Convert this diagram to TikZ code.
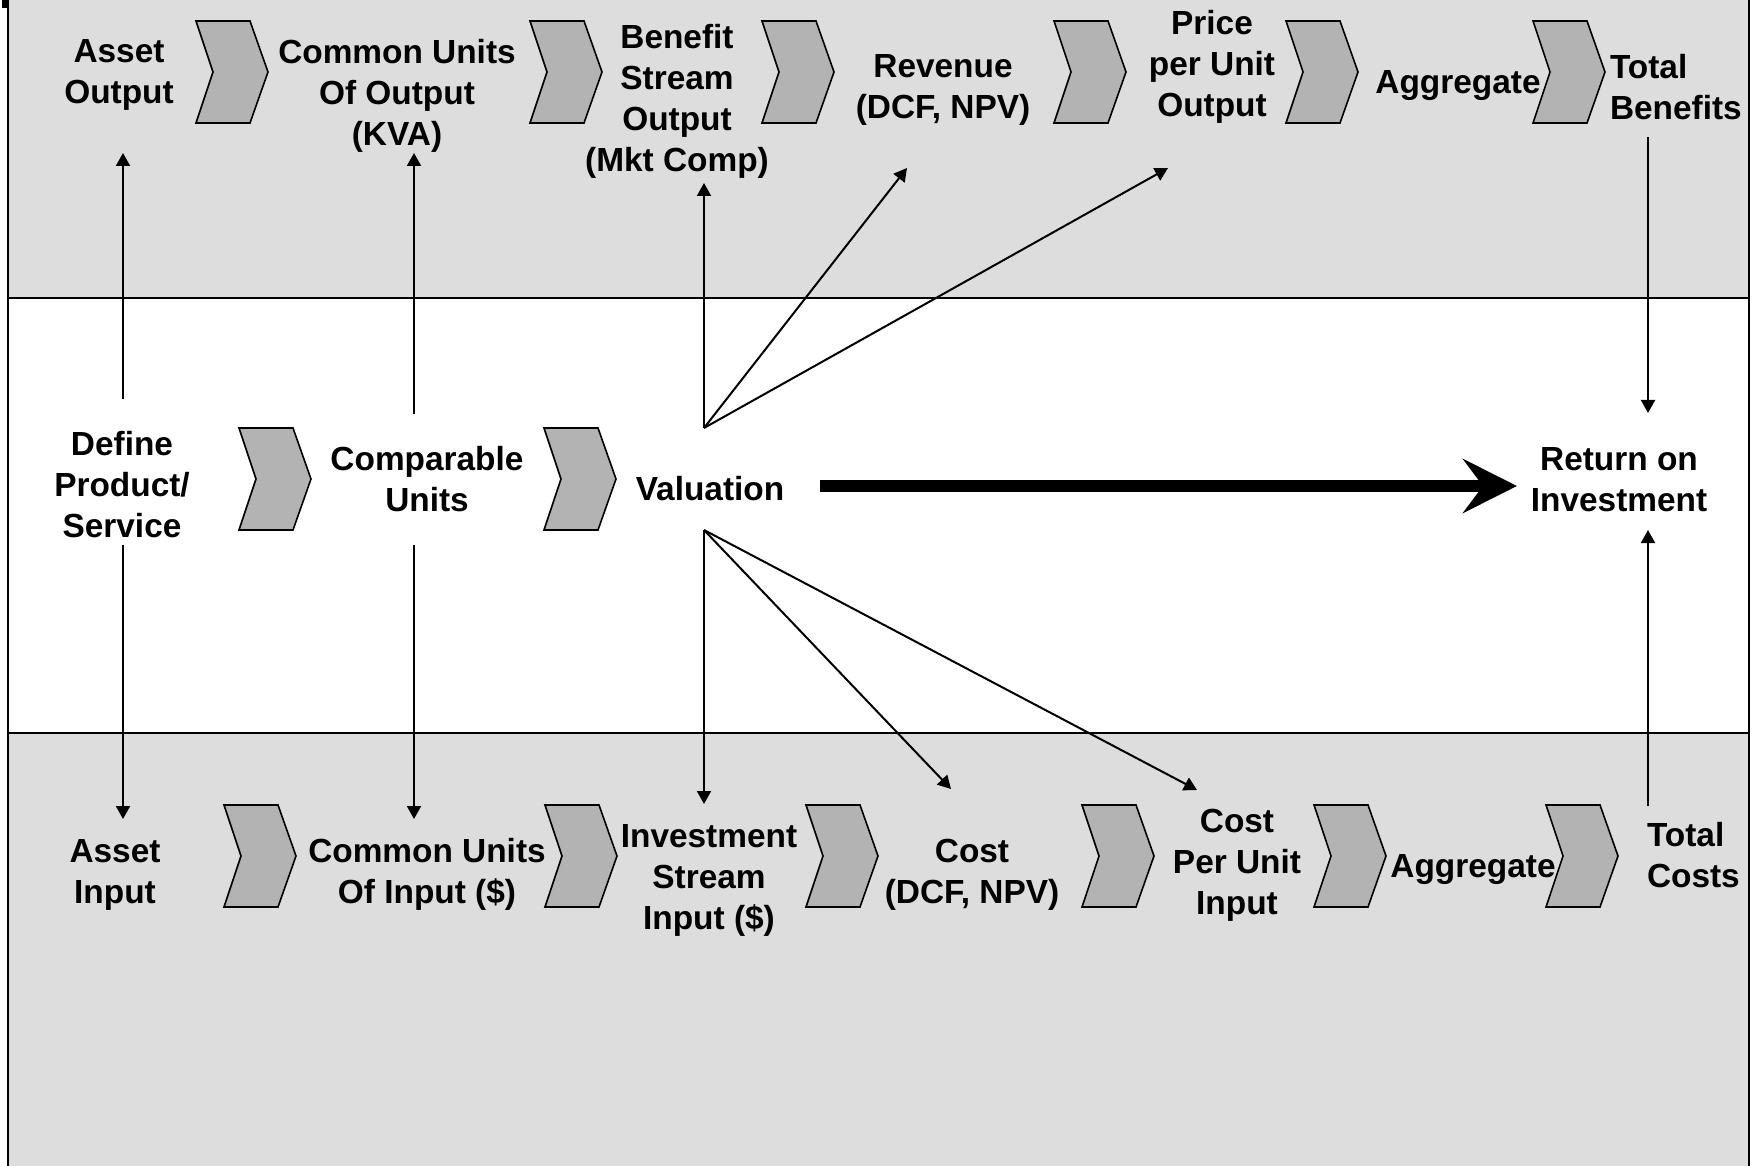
\documentclass[tikz,border=0pt]{standalone}
\usepackage{fontspec}
\setmainfont{Liberation Sans}
\usetikzlibrary{arrows.meta,calc}
\definecolor{bandgray}{HTML}{DDDDDD}
\definecolor{chevgray}{HTML}{B3B3B3}
\begin{document}
\begin{tikzpicture}[x=0.5pt,y=-0.5pt,
  lbl/.style={inner sep=0pt,outer sep=0pt,align=center,
    font=\fontsize{16.7}{20.5}\selectfont\bfseries,
    execute at begin node=\strut, execute at end node=\strut},
  lbll/.style={lbl,align=left,anchor=west},
  arr/.style={line width=1pt,-{Triangle[length=6.5pt,width=7pt]}},
  thickarr/.style={line width=6pt,-{Stealth[length=27pt,width=27pt,inset=10pt]}},
  chevfill/.style={fill=chevgray,draw=black,line width=0.8pt,line join=miter},
  pics/chev/.style={code={\draw[chevfill] (0,0) -- (54,0) -- (72,51) -- (54,102) -- (0,102) -- (17,51) -- cycle;}}
]
\useasboundingbox (0,0) rectangle (1758,1166);
\fill[white] (0,0) rectangle (1758,1166);
% bands
\fill[bandgray] (7.5,0) rectangle (1749,298);
\fill[bandgray] (7.5,733) rectangle (1749,1166);
\draw[line width=1pt] (7.5,298) -- (1749,298);
\draw[line width=1pt] (7.5,733) -- (1749,733);
\draw[line width=1pt] (7.5,0) -- (7.5,1166);
\draw[line width=1.2pt] (1749,0) -- (1749,1166);
\fill[black] (2,0) rectangle (8,8);

% chevrons top row
\foreach \cx in {196,530,762,1054,1286,1533} \pic at (\cx,21) {chev};
% chevrons middle row
\foreach \cx in {239,544} \pic at (\cx,428) {chev};
% chevrons bottom row
\foreach \cx in {224,545,806,1082,1314,1546} \pic at (\cx,805) {chev};

% top row labels
\node[lbl] (ao)   at (119,78)  {Asset\\Output};
\node[lbl] (cuo)  at (397,99)  {Common Units\\Of Output\\(KVA)};
\node[lbl] (bso)  at (677,104) {Benefit\\Stream\\Output\\(Mkt Comp)};
\node[lbl] (rev)  at (943,93)  {Revenue\\(DCF, NPV)};
\node[lbl] (ppu)  at (1212,70) {Price\\per Unit\\Output};
\node[lbl] (agg1) at (1458,85) {Aggregate};
\node[lbll] (tb)  at (1610,93) {Total\\Benefits};

% middle row labels
\node[lbl] (def)  at (122,491) {Define\\Product/\\Service};
\node[lbl] (cu)   at (427,485) {Comparable\\Units};
\node[lbl] (val)  at (710,492) {Valuation};
\node[lbl] (roi)  at (1619,486) {Return on\\Investment};

% bottom row labels
\node[lbl] (ai)   at (115,878) {Asset\\Input};
\node[lbl] (cui)  at (427,877) {Common Units\\Of Input (\$)};
\node[lbl] (isi)  at (709,883) {Investment\\Stream\\Input (\$)};
\node[lbl] (cost) at (972,877) {Cost\\(DCF, NPV)};
\node[lbl] (cpu)  at (1237,868) {Cost\\Per Unit\\Input};
\node[lbl] (agg2) at (1473,869) {Aggregate};
\node[lbll] (tc)  at (1647,861) {Total\\Costs};

% fan points of valuation
\coordinate (valtop) at ($(val)+(-6,-64)$);
\coordinate (valbot) at ($(val)+(-6,38)$);

% connectors
\draw[arr] ($(def)+(1,-92)$) -- ($(ao)+(4,75)$);
\draw[arr] ($(def)+(1,54)$) -- ($(ai)+(8,-59)$);
\draw[arr] ($(cu)+(-13,-71)$) -- ($(cuo)+(17,54)$);
\draw[arr] ($(cu)+(-13,60)$) -- ($(cui)+(-13,-58)$);
\draw[arr] (valtop) -- ($(bso)+(27,79)$);
\draw[arr] (valtop) -- ($(rev)+(-36,75)$);
\draw[arr] (valtop) -- ($(ppu)+(-44,98)$);
\draw[arr] (valbot) -- ($(isi)+(-5,-79)$);
\draw[arr] (valbot) -- ($(cost)+(-21,-88)$);
\draw[arr] (valbot) -- ($(cpu)+(-40,-78)$);
\draw[arr] ($(tb.west)+(38,44)$) -- ($(roi)+(29,-73)$);
\draw[arr] ($(tc.west)+(1,-55)$) -- ($(roi)+(29,44)$);
\draw[thickarr] ($(val)+(110,-6)$) -- ($(roi)+(-102,0)$);
\end{tikzpicture}
\end{document}
